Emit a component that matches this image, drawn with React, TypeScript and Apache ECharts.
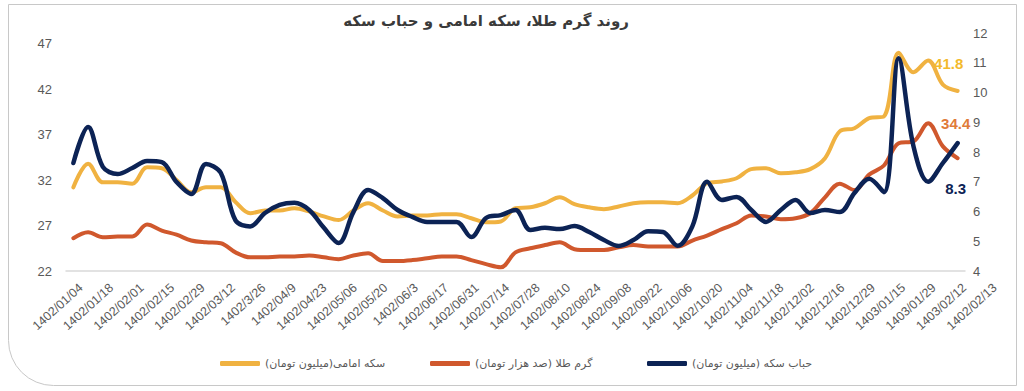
import React, { useEffect, useRef } from 'react';
import * as echarts from 'echarts';

const titleText = 'روند گرم طلا، سکه امامی و حباب سکه';

const seriesNames = [
  'سکه امامی(میلیون تومان)',
  'گرم طلا (صد هزار تومان)',
  'حباب سکه (میلیون تومان)',
];

const tickLabels = [
  '1402/01/04', '1402/01/18', '1402/02/01', '1402/02/15', '1402/02/29', '1402/03/12',
  '1402/3/26', '1402/04/9', '1402/04/23', '1402/05/06', '1402/05/20', '1402/06/3',
  '1402/06/17', '1402/06/31', '1402/07/14', '1402/07/28', '1402/08/10', '1402/08/24',
  '1402/09/08', '1402/09/22', '1402/10/06', '1402/10/20', '1402/11/04', '1402/11/18',
  '1402/12/02', '1402/12/16', '1402/12/29', '1403/01/15', '1403/01/29', '1403/02/12',
  '1402/02/13',
];

// سکه امامی (میلیون تومان) – left axis
const coinValues = [
  31.2, 33.8, 31.75, 31.75, 31.6, 33.4, 33.3, 32.0, 30.65, 31.2,
  31.2, 29.6, 28.35, 28.65, 28.65, 28.9, 28.55, 28.0, 27.6, 28.65,
  29.45, 28.65, 28.0, 28.1, 28.1, 28.25, 28.25, 27.8, 27.35, 27.45,
  28.9, 29.0, 29.45, 30.1, 29.35, 29.0, 28.8, 29.1, 29.45, 29.55,
  29.55, 29.45, 30.3, 31.65, 31.85, 32.2, 33.2, 33.3, 32.75, 32.85,
  33.2, 34.4, 37.35, 37.7, 38.8, 39.0, 46.0, 43.85, 45.15, 42.5,
  41.8,
];

// گرم طلا (صد هزار تومان) – left axis
const goldValues = [
  25.6, 26.25, 25.7, 25.8, 25.8, 27.1, 26.45, 26.0, 25.35, 25.15,
  25.05, 24.05, 23.5, 23.5, 23.6, 23.6, 23.7, 23.5, 23.3, 23.7,
  23.95, 23.1, 23.1, 23.2, 23.4, 23.6, 23.6, 23.2, 22.75, 22.4,
  24.05, 24.5, 24.85, 25.15, 24.4, 24.3, 24.3, 24.6, 24.85, 24.7,
  24.7, 24.7, 25.35, 25.9, 26.6, 27.25, 28.1, 28.0, 27.7, 27.8,
  28.35, 30.1, 31.6, 30.9, 32.6, 33.6, 36.05, 36.25, 38.25, 35.7,
  34.4,
];

// حباب سکه (میلیون تومان) – right axis
const bubbleValues = [
  7.63, 8.84, 7.5, 7.26, 7.46, 7.7, 7.66, 6.99, 6.59, 7.6,
  7.3, 5.7, 5.5, 5.95, 6.22, 6.29, 6.05, 5.45, 4.94, 5.98,
  6.72, 6.45, 6.05, 5.82, 5.65, 5.65, 5.65, 5.14, 5.78, 5.88,
  6.05, 5.38, 5.45, 5.41, 5.51, 5.31, 5.04, 4.84, 5.04, 5.34,
  5.31, 4.85, 5.5, 7.0, 6.39, 6.49, 6.05, 5.65, 6.05, 6.39,
  5.95, 6.05, 5.98, 6.62, 7.1, 6.65, 11.15, 8.2, 7.0, 7.63,
  8.3,
];

const seriesColors = ['#F0B241', '#D0582D', '#0C2355'];
const endLabelColors = ['#F3BA2C', '#E07B39', '#0C2355'];

export default function App() {
  const ref = useRef<HTMLDivElement>(null);

  useEffect(() => {
    if (!ref.current) return;
    const chart = echarts.init(ref.current, undefined, { renderer: 'svg' });
    const latin = "'Liberation Sans', Arial, 'DejaVu Sans', sans-serif";
    const persian = "'DejaVu Sans', 'Liberation Sans', sans-serif";
    const axisGrey = '#595959';
    const pointIndex = coinValues.map((_, i) => String(i));

    const withEndLabel = (
      vals: number[],
      color: string,
      position: string,
      offset: number[],
    ) =>
      vals.map((v, i) =>
        i === vals.length - 1
          ? {
              value: v,
              symbolSize: 1,
              label: {
                show: true,
                position,
                offset,
                color,
                fontWeight: 'bold',
                fontSize: 15,
                fontFamily: latin,
                formatter: '{c}',
              },
            }
          : v,
      );

    const lineSeries = (
      k: number,
      vals: number[],
      yAxisIndex: number,
      position: string,
      offset: number[],
      width: number,
    ) => ({
      name: seriesNames[k],
      type: 'line',
      xAxisIndex: 0,
      yAxisIndex,
      smooth: 0.35,
      symbol: 'circle',
      symbolSize: 0,
      showSymbol: true,
      showAllSymbol: true,
      color: seriesColors[k],
      lineStyle: { color: seriesColors[k], width, cap: 'round', join: 'round' },
      itemStyle: { color: seriesColors[k] },
      emphasis: { disabled: true },
      data: withEndLabel(vals, endLabelColors[k], position, offset),
    });

    const legendLefts = [220, 430, 647];

    chart.setOption({
      animation: false,
      backgroundColor: '#ffffff',
      graphic: [
        {
          type: 'rect',
          silent: true,
          z: -10,
          shape: { x: 8.5, y: 4.5, width: 1008, height: 381, r: [0, 0, 0, 45] },
          style: { fill: 'none', stroke: '#C8C8C8', lineWidth: 1 },
        },
        {
          type: 'text',
          silent: true,
          x: 486,
          y: 21,
          style: {
            text: titleText,
            fontSize: 15,
            fontWeight: 'bold',
            fontFamily: persian,
            fill: '#3A3A3A',
            align: 'center',
            verticalAlign: 'middle',
          },
        },
      ],
      legend: seriesNames.map((n, k) => ({
        data: [n],
        left: legendLefts[k],
        top: 358,
        padding: 0,
        itemWidth: 40,
        itemHeight: 5,
        icon: 'roundRect',
        selectedMode: false,
        formatter: (s: string) => s + '\u200F',
        textStyle: { color: axisGrey, fontSize: 11, fontFamily: persian },
      })),
      grid: [
        { left: 66, right: 59, top: 33, bottom: 120 },
        { left: 81, right: 29, top: 33, bottom: 120 },
      ],
      xAxis: [
        {
          gridIndex: 0,
          type: 'category',
          data: pointIndex,
          boundaryGap: true,
          axisLine: { show: true, lineStyle: { color: '#D9D9D9', width: 1.5 } },
          axisTick: { show: false },
          axisLabel: { show: false },
          splitLine: { show: false },
        },
        {
          gridIndex: 1,
          type: 'category',
          data: tickLabels,
          boundaryGap: false,
          axisLine: { show: false },
          axisTick: { show: false },
          splitLine: { show: false },
          axisLabel: {
            interval: 0,
            rotate: 42,
            margin: 15,
            fontSize: 12.5,
            color: axisGrey,
            fontFamily: latin,
          },
        },
      ],
      yAxis: [
        {
          gridIndex: 0,
          type: 'value',
          position: 'left',
          min: 22,
          max: 48.17,
          interval: 5,
          axisLine: { show: false },
          axisTick: { show: false },
          splitLine: { show: false },
          axisLabel: {
            showMaxLabel: false,
            margin: 14,
            fontSize: 13,
            color: axisGrey,
            fontFamily: latin,
          },
        },
        {
          gridIndex: 0,
          type: 'value',
          position: 'right',
          min: 4,
          max: 12,
          interval: 1,
          axisLine: { show: false },
          axisTick: { show: false },
          splitLine: { show: false },
          axisLabel: {
            margin: 8,
            fontSize: 13,
            color: axisGrey,
            fontFamily: latin,
          },
        },
        { gridIndex: 1, type: 'value', show: false },
      ],
      series: [
        lineSeries(0, coinValues, 0, 'top', [-9, -14], 4),
        lineSeries(1, goldValues, 0, 'top', [-2, -22], 4),
        lineSeries(2, bubbleValues, 1, 'bottom', [-2, 32], 4.5),
      ],
    });

    return () => chart.dispose();
  }, []);

  return (
    <div
      ref={ref}
      style={{ position: 'fixed', left: 0, top: 0, width: 1024, height: 391, background: '#fff' }}
    />
  );
}
